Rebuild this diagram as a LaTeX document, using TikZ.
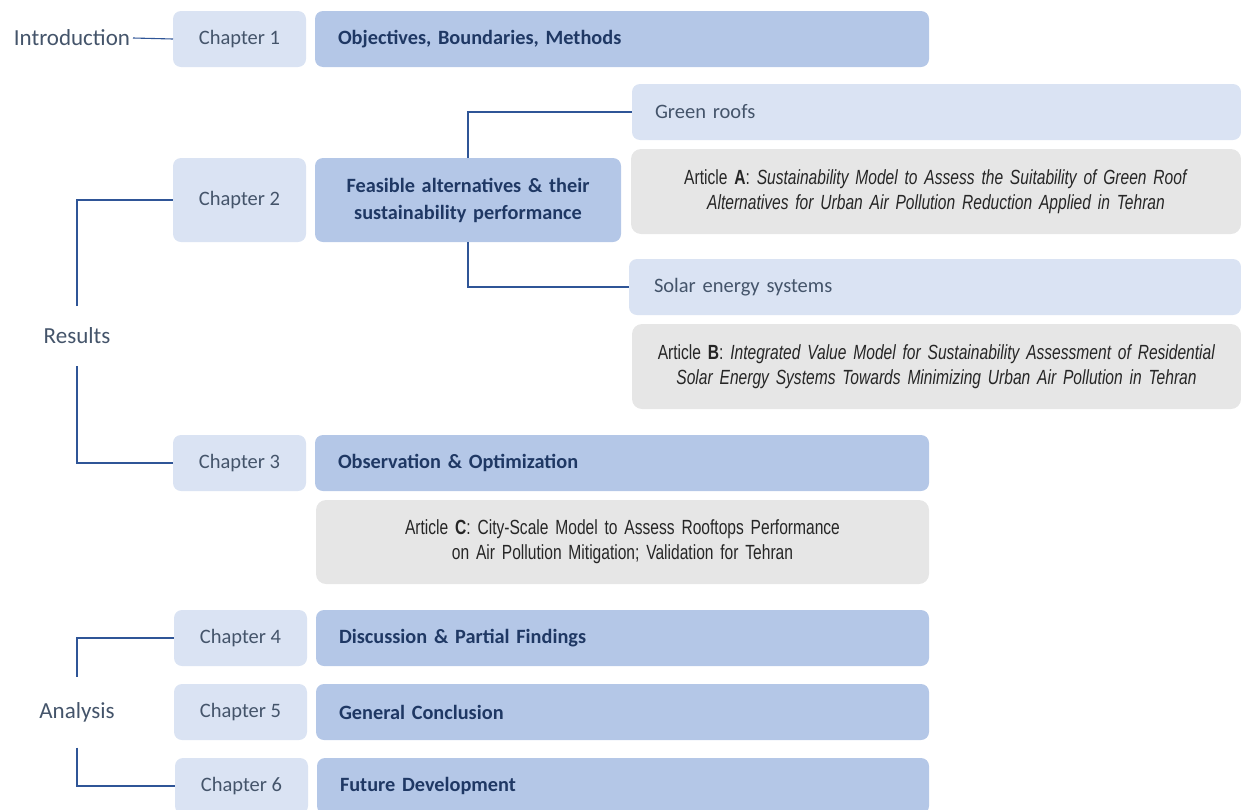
\documentclass[tikz,border=0pt]{standalone}
\usepackage{fontspec}
\setmainfont{Carlito}
\newfontfamily\artfont[FakeStretch=0.76,WordSpace=0.75]{Liberation Sans}

\definecolor{chapfill}{HTML}{DAE3F3}
\definecolor{mainfill}{HTML}{B4C7E7}
\definecolor{artfill}{HTML}{E6E6E6}
\definecolor{chaptext}{HTML}{44546A}
\definecolor{maintext}{HTML}{1F3864}
\definecolor{arttext}{HTML}{262626}
\definecolor{linkcol}{HTML}{2F5597}

\begin{document}
\begin{tikzpicture}[x=1pt,y=-1pt,
  every node/.style={inner sep=0pt, outer sep=0pt},
  chapbox/.style={fill=chapfill, rounded corners=8pt, anchor=north west,
    minimum width=133pt, minimum height=56pt, text=chaptext,
    font=\fontsize{20.5}{24}\selectfont},
  mainbox/.style={fill=mainfill, rounded corners=8pt, anchor=north west,
    minimum height=56pt, inner xsep=23pt, align=left, text=maintext,
    font=\bfseries\fontsize{20.3}{24}\selectfont},
  topicbox/.style={fill=chapfill, rounded corners=8pt, anchor=north west,
    minimum height=56pt, align=left, text=chaptext,
    font=\fontsize{20.5}{24}\selectfont},
  artbox/.style={fill=artfill, rounded corners=10pt, anchor=north west,
    align=center, text=arttext, font=\artfont\fontsize{20.5}{25}\selectfont},
  partlabel/.style={text=chaptext, font=\fontsize{23}{27}\selectfont},
  link/.style={draw=linkcol, line width=1.1pt}
]
\useasboundingbox (0,0) rectangle (1241,809);

% Introduction
\node[partlabel, anchor=east, inner xsep=3pt] (intro) at (133,38) {Introduction};
\node[chapbox] (ch1) at (173,11) {Chapter 1};
\node[mainbox, minimum width=614pt, text width=568pt] (m1) at (315,11) {Objectives, Boundaries, Methods};
\draw[link] (intro.east) -- (ch1.west);

% Results: chapter 2 and its two topics
\node[chapbox, minimum height=84pt] (ch2) at (173,158) {Chapter 2};
\node[mainbox, minimum width=306pt, minimum height=84pt, text width=290pt,
      inner xsep=8pt, align=center, font=\bfseries\fontsize{20.3}{27}\selectfont]
      (m2) at (315,158) {Feasible alternatives \& their\\sustainability performance};

\node[topicbox, minimum width=609pt, inner xsep=23pt, text width=563pt] (green) at (632,84) {Green roofs};
\node[artbox, minimum width=610pt, minimum height=85pt, text width=600pt] (artA) at (631,149)
  {Article \textbf{A}: \textit{Sustainability Model to Assess the Suitability of Green Roof}\\
   \textit{Alternatives for Urban Air Pollution Reduction Applied in Tehran}};

\node[topicbox, minimum width=612pt, inner xsep=25pt, text width=562pt] (solar) at (629,259) {Solar energy systems};
\node[artbox, minimum width=609pt, minimum height=85pt, text width=600pt] (artB) at (632,324)
  {Article \textbf{B}: \textit{Integrated Value Model for Sustainability Assessment of Residential}\\
   \textit{Solar Energy Systems Towards Minimizing Urban Air Pollution in Tehran}};

\draw[link] (m2.north) |- (green.west);
\draw[link] (m2.south) |- (solar.west);

% Results: chapter 3
\node[chapbox] (ch3) at (173,435) {Chapter 3};
\node[mainbox, minimum width=614pt, text width=568pt] (m3) at (315,435) {Observation \& Optimization};
\node[artbox, minimum width=613pt, minimum height=84pt, text width=600pt] (artC) at (316,500)
  {Article \textbf{C}: City-Scale Model to Assess Rooftops Performance\\
   on Air Pollution Mitigation; Validation for Tehran};

\node[partlabel, minimum height=60pt] (results) at (77,336) {Results};
\draw[link] (results.north) |- (ch2.west);
\draw[link] (results.south) |- (ch3.west);

% Analysis
\node[chapbox] (ch4) at (174,610) {Chapter 4};
\node[mainbox, minimum width=613pt, text width=567pt] (m4) at (316,610) {Discussion \& Partial Findings};
\node[chapbox] (ch5) at (174,684) {Chapter 5};
\node[mainbox, minimum width=613pt, text width=567pt] (m5) at (316,684) {General Conclusion};
\node[chapbox] (ch6) at (175,758) {Chapter 6};
\node[mainbox, minimum width=612pt, text width=566pt] (m6) at (317,758) {Future Development};

\node[partlabel, minimum height=71pt] (analysis) at (77,712) {Analysis};
\draw[link] (analysis.north) |- (ch4.west);
\draw[link] (analysis.south) |- (ch6.west);
\end{tikzpicture}
\end{document}
